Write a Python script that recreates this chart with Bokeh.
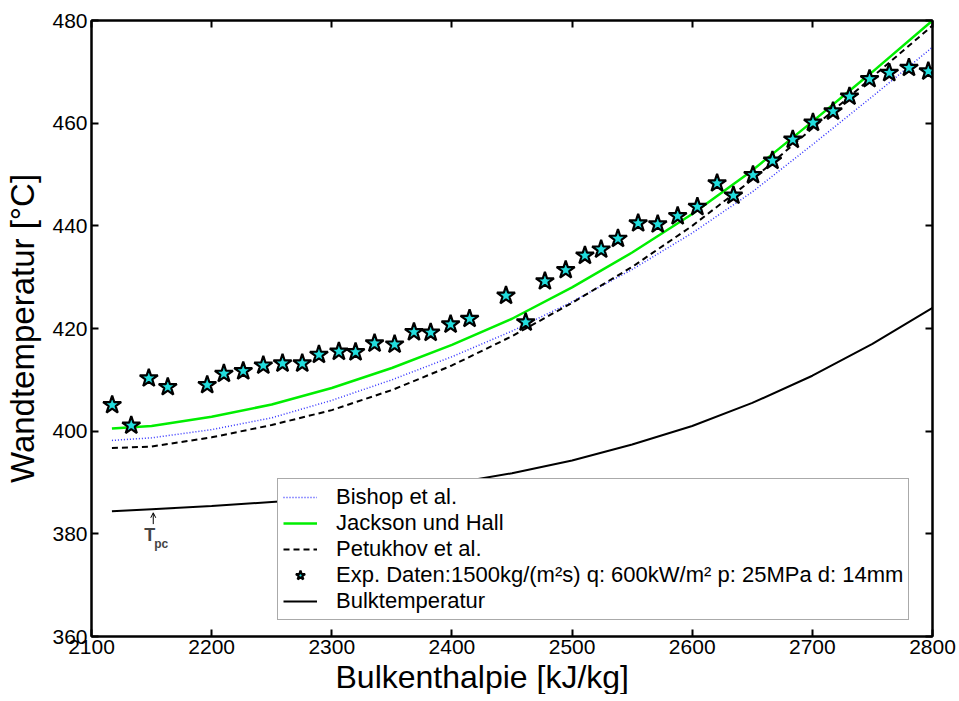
from bokeh.plotting import figure
from bokeh.models import (LinearAxis, Range1d, Legend, LegendItem, Label, Arrow,
                          OpenHead, FixedTicker, Title)
from bokeh.embed import file_html
from bokeh.resources import INLINE

# ---------------- data ----------------
h_curve = [2117, 2150, 2200, 2250, 2300, 2350, 2400, 2450, 2500, 2550, 2600, 2650, 2700, 2750, 2800]
bishop = [398.2, 398.7, 400.3, 402.6, 406.0, 410.0, 414.5, 419.5, 425.2, 431.5, 438.6, 446.6, 455.8, 465.2, 474.8]
jackson = [400.5, 401.0, 402.8, 405.2, 408.4, 412.3, 416.8, 421.9, 428.0, 434.8, 442.3, 450.8, 460.3, 470.0, 480.0]
petukhov = [396.7, 397.0, 398.8, 401.2, 404.1, 408.0, 412.8, 418.5, 425.0, 432.0, 440.0, 449.0, 459.0, 469.0, 479.0]
bulk = [384.4, 384.8, 385.4, 386.2, 387.0, 388.2, 389.8, 391.8, 394.3, 397.4, 401.0, 405.5, 410.8, 417.0, 424.0]

h_exp = [2117.2, 2133.1, 2147.7, 2163.5, 2196.3, 2210.2, 2226.3, 2243.0, 2259.0, 2275.4,
         2289.3, 2305.9, 2319.8, 2335.6, 2352.3, 2368.4, 2382.3, 2398.9, 2414.7, 2445.0,
         2461.4, 2477.4, 2494.7, 2510.7, 2524.2, 2538.2, 2555.0, 2571.3, 2587.9, 2604.3,
         2620.7, 2634.3, 2650.6, 2666.8, 2683.7, 2700.5, 2717.2, 2730.9, 2747.6, 2764.0,
         2780.4, 2796.5]
t_exp = [405.1, 401.1, 410.3, 408.6, 409.0, 411.2, 411.7, 412.8, 413.2, 413.2,
         414.9, 415.5, 415.4, 417.1, 416.9, 419.3, 419.2, 420.8, 421.9, 426.4,
         421.2, 429.2, 431.4, 434.2, 435.4, 437.5, 440.5, 440.3, 441.9, 443.7,
         448.3, 445.9, 449.9, 452.7, 456.8, 460.1, 462.3, 465.2, 468.6, 469.8,
         470.8, 470.1]

x_ticks = [2100, 2200, 2300, 2400, 2500, 2600, 2700, 2800]
y_ticks = [360, 380, 400, 420, 440, 460, 480]

x_title = "Bulkenthalpie [kJ/kg]"
y_title = "Wandtemperatur [°C]"

tpc_h = 2151.4
tpc_t_top = 384.1
tpc_t_bottom = 381.9

FONT = "Liberation Sans"

p = figure(frame_width=841, frame_height=616,
           x_range=Range1d(2100, 2800), y_range=Range1d(360, 480),
           output_backend="svg", toolbar_location=None,
           min_border_left=91, min_border_right=27, min_border_top=20, min_border_bottom=0,
           background_fill_color="white", border_fill_color="white")
p.grid.visible = False
p.outline_line_color = "black"
p.outline_line_width = 2

def style_axis(ax, labels=True):
    ax.axis_line_width = 2
    ax.axis_line_color = "black"
    ax.major_tick_in = 7
    ax.major_tick_out = 0
    ax.major_tick_line_width = 2
    ax.minor_tick_in = 0
    ax.minor_tick_out = 0
    ax.major_label_text_font = FONT
    ax.major_label_text_font_size = "21px"
    ax.major_label_text_color = "black"
    ax.axis_label_text_font = FONT
    ax.axis_label_text_font_style = "normal"
    ax.axis_label_text_font_size = "33px"
    ax.axis_label_text_color = "black"
    if not labels:
        ax.major_label_text_font_size = "0px"
        ax.major_label_text_alpha = 0

p.xaxis.ticker = FixedTicker(ticks=x_ticks)
p.yaxis.ticker = FixedTicker(ticks=y_ticks)
p.yaxis.axis_label = y_title
style_axis(p.xaxis[0])
style_axis(p.yaxis[0])
p.xaxis.major_label_standoff = 3
p.xaxis.major_label_text_line_height = 0.75
p.yaxis.major_label_standoff = 4
p.yaxis.axis_label_standoff = 8

top_ax = LinearAxis(ticker=FixedTicker(ticks=x_ticks))
right_ax = LinearAxis(ticker=FixedTicker(ticks=y_ticks))
style_axis(top_ax, labels=False)
style_axis(right_ax, labels=False)
p.add_layout(top_ax, "above")
p.add_layout(right_ax, "right")

# x-axis title, shifted left as in the original
p.add_layout(Title(text=x_title, align="left", offset=244, text_font=FONT,
                   text_font_size="32px", text_font_style="normal", text_color="black",
                   standoff=0, text_line_height=0.9), "below")

r_bishop = p.line(h_curve, bishop, line_color="#3333ff", line_width=1.5, line_dash="1 2")
r_jackson = p.line(h_curve, jackson, line_color="#00ee00", line_width=2.5)
r_petukhov = p.line(h_curve, petukhov, line_color="black", line_width=2, line_dash="6 4")
r_bulk = p.line(h_curve, bulk, line_color="black", line_width=2)
r_exp = p.scatter(h_exp, t_exp, marker="star", size=19, fill_color="#22dddd",
                  line_color="black", line_width=2.2)

# T_pc annotation
p.add_layout(Arrow(x_start=tpc_h, y_start=tpc_t_bottom, x_end=tpc_h, y_end=tpc_t_top,
                   line_width=1, line_color="black",
                   end=OpenHead(size=5, line_width=1, line_color="black")))
p.add_layout(Label(x=tpc_h, y=377.9, text="T", text_font=FONT, text_font_style="bold",
                   text_font_size="18px", text_align="right", x_offset=2))
p.add_layout(Label(x=tpc_h, y=376.7, text="pc", text_font=FONT, text_font_style="bold",
                   text_font_size="12px", text_align="left", x_offset=1))

legend = Legend(items=[
    LegendItem(label="Bishop et al.", renderers=[r_bishop]),
    LegendItem(label="Jackson und Hall", renderers=[r_jackson]),
    LegendItem(label="Petukhov et al.", renderers=[r_petukhov]),
    LegendItem(label="Exp. Daten:1500kg/(m²s) q: 600kW/m² p: 25MPa d: 14mm", renderers=[r_exp]),
    LegendItem(label="Bulktemperatur", renderers=[r_bulk]),
], location=(186, 16))
legend.label_text_font = FONT
legend.label_text_font_size = "22px"
legend.label_text_color = "black"
legend.padding = 5
legend.margin = 0
legend.spacing = 0
legend.label_height = 24
legend.glyph_height = 24
legend.glyph_width = 34
legend.label_standoff = 19
legend.border_line_color = "#555555"
legend.border_line_width = 1
legend.background_fill_color = "white"
legend.background_fill_alpha = 1
p.add_layout(legend, "center")

open("out.html", "w").write(file_html(p, INLINE))
